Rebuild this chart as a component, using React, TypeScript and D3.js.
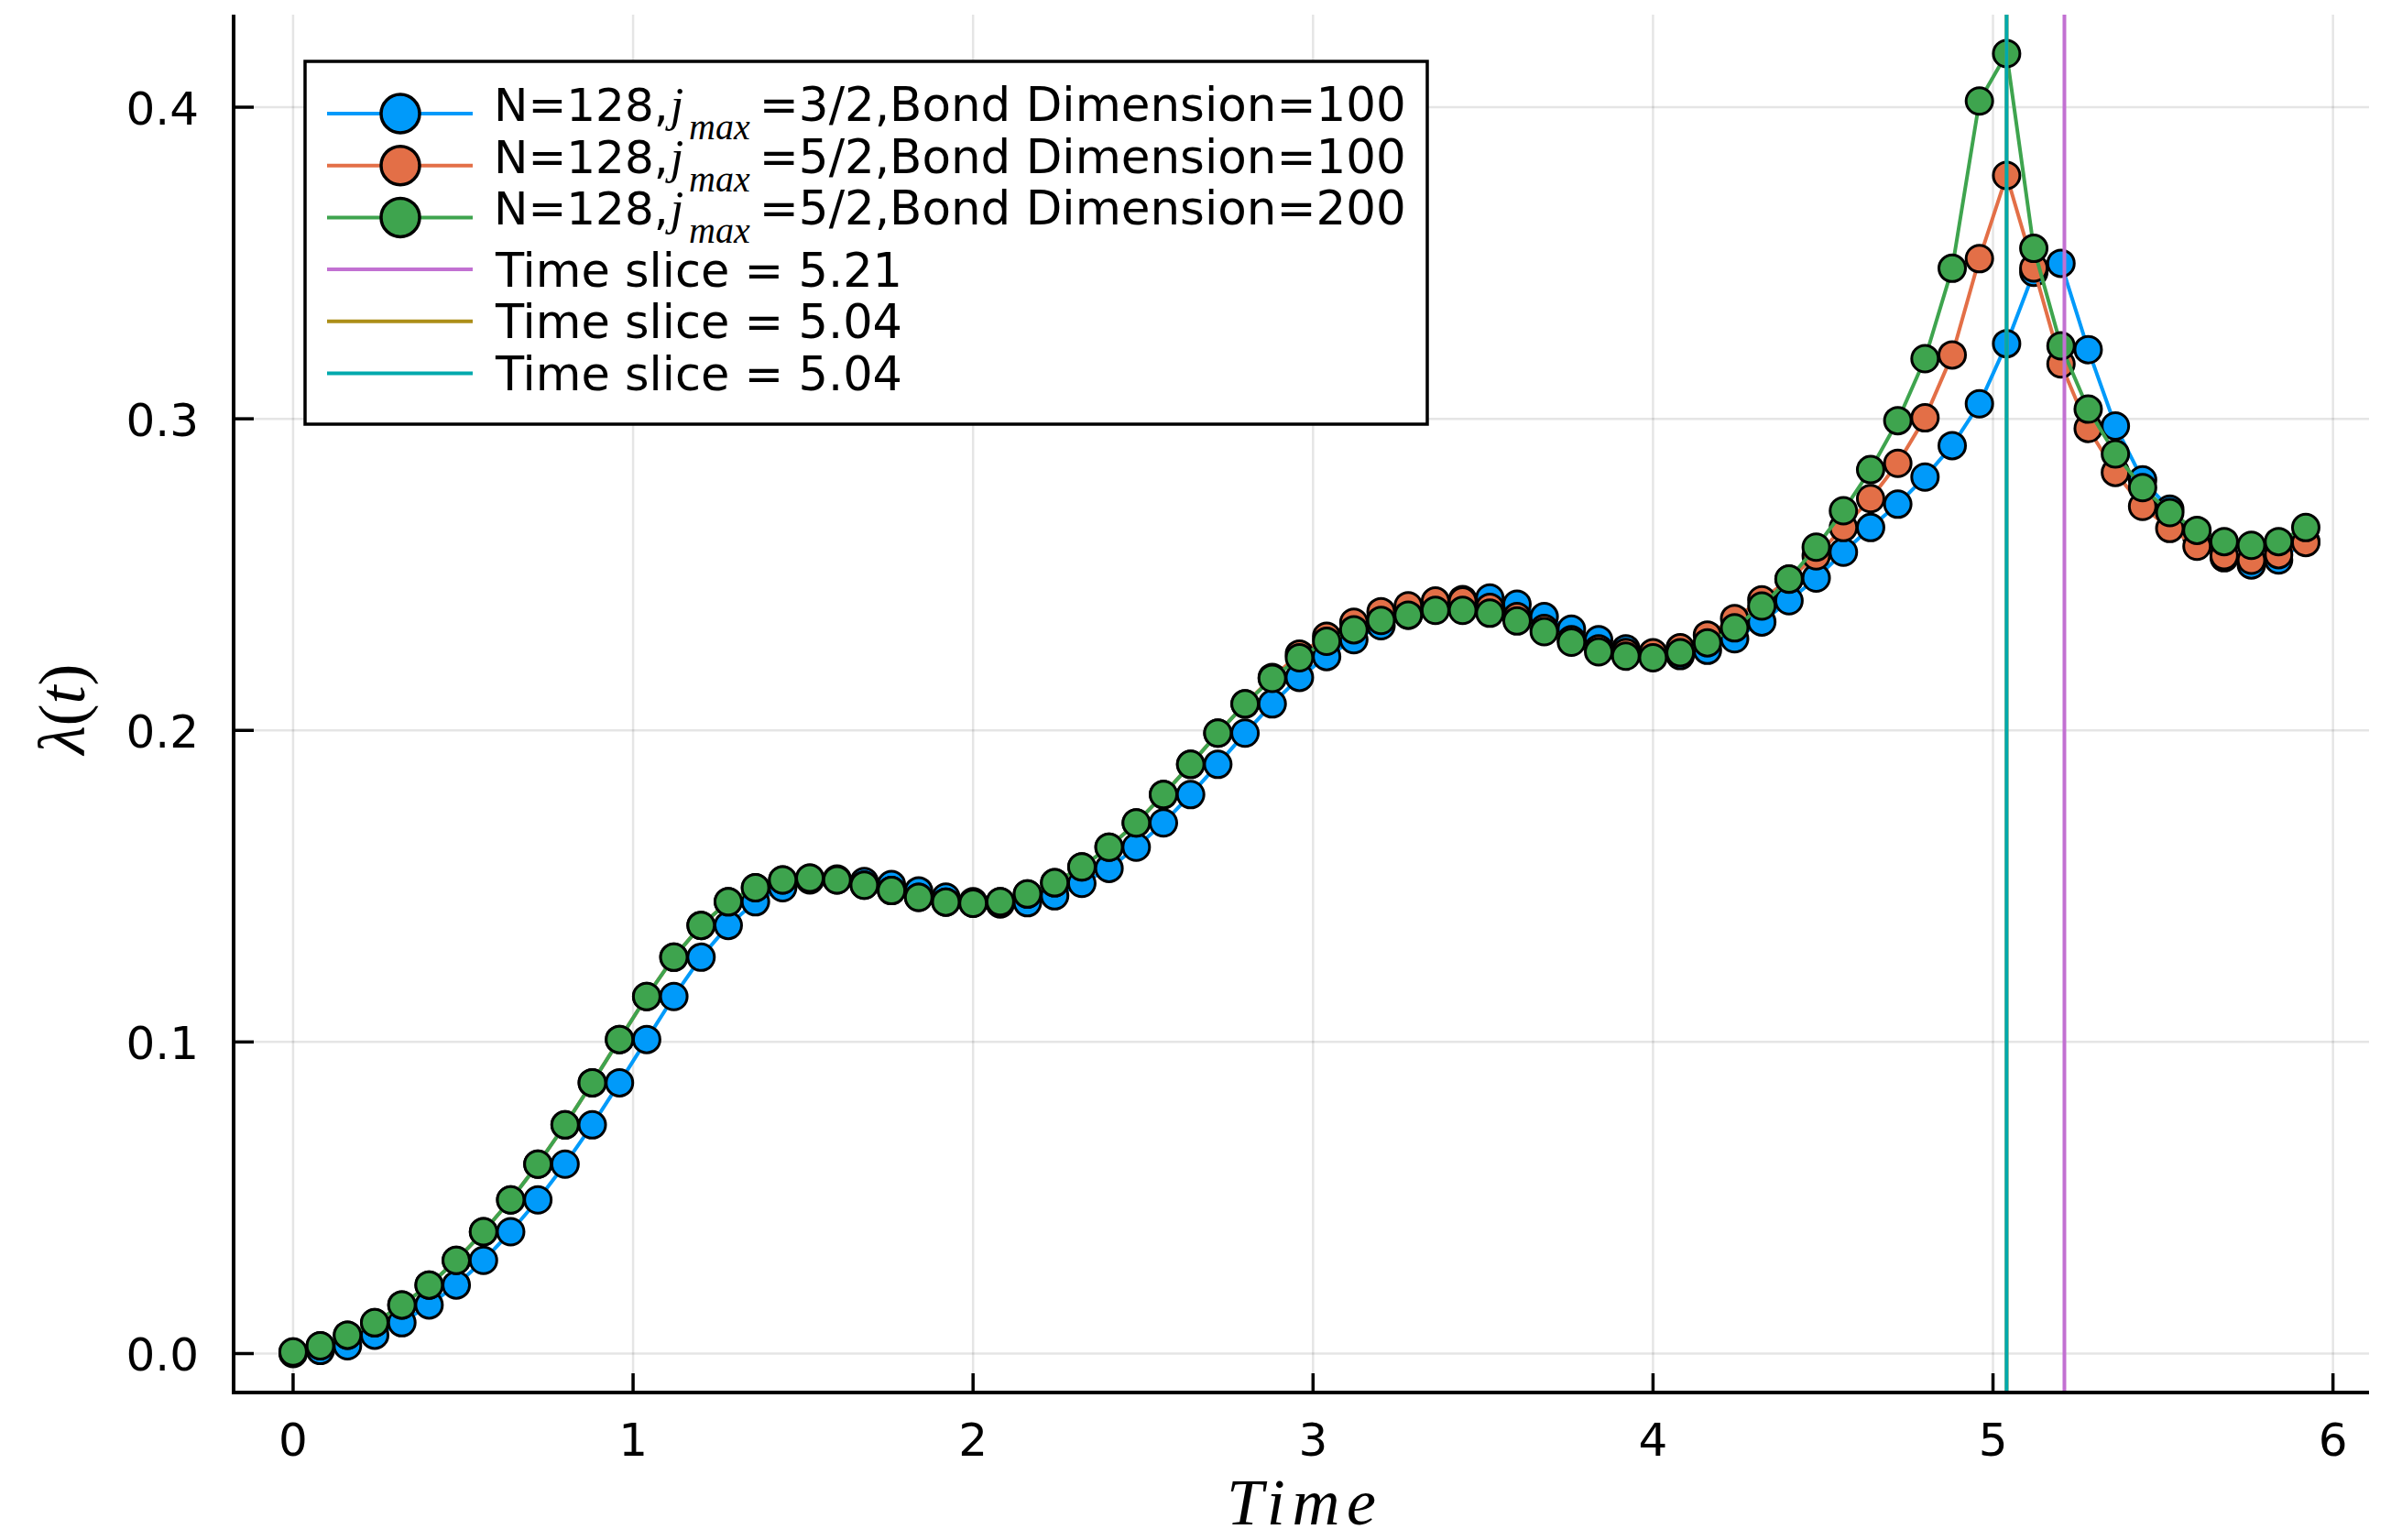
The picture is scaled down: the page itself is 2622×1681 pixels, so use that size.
import React from 'react';
import * as d3 from 'd3';

// ---------------- data ----------------
const time = [
  0, 0.08, 0.16, 0.24, 0.32, 0.4, 0.48, 0.56, 0.64, 0.72,
  0.8, 0.88, 0.96, 1.04, 1.12, 1.2, 1.28, 1.36, 1.44, 1.52,
  1.6, 1.68, 1.76, 1.84, 1.92, 2.0, 2.08, 2.16, 2.24, 2.32,
  2.4, 2.48, 2.56, 2.64, 2.72, 2.8, 2.88, 2.96, 3.04, 3.12,
  3.2, 3.28, 3.36, 3.44, 3.52, 3.6, 3.68, 3.76, 3.84, 3.92,
  4.0, 4.08, 4.16, 4.24, 4.32, 4.4, 4.48, 4.56, 4.64, 4.72,
  4.8, 4.88, 4.96, 5.04, 5.12, 5.2, 5.28, 5.36, 5.44, 5.52,
  5.6, 5.68, 5.76, 5.84, 5.92,
];

const lambdaJ32B100 = [
  0.0, 0.001, 0.0025, 0.0059, 0.0099, 0.0156, 0.022, 0.0299, 0.0391, 0.0493,
  0.0608, 0.0734, 0.0869, 0.1008, 0.1146, 0.1272, 0.1374, 0.145, 0.1495, 0.152,
  0.1523, 0.1515, 0.1505, 0.1485, 0.1465, 0.145, 0.1443, 0.1447, 0.1469, 0.1509,
  0.1557, 0.1625, 0.1703, 0.1794, 0.1891, 0.1991, 0.2085, 0.217, 0.2237, 0.2291,
  0.2336, 0.237, 0.24, 0.242, 0.2425, 0.2405, 0.2365, 0.2325, 0.2291, 0.2262,
  0.2247, 0.224, 0.2257, 0.2294, 0.2348, 0.2416, 0.2489, 0.2572, 0.2651, 0.2726,
  0.2813, 0.2914, 0.3048, 0.3241, 0.347, 0.3499, 0.3222, 0.2977, 0.2804, 0.271,
  0.262, 0.2554, 0.2531, 0.2547, 0.2606,
];

const lambdaJ52B100 = [
  0.0005, 0.0025, 0.0059, 0.0099, 0.0156, 0.022, 0.0299, 0.0391, 0.0493, 0.0608,
  0.0734, 0.0869, 0.1008, 0.1146, 0.1272, 0.1374, 0.145, 0.1495, 0.152, 0.1526,
  0.152, 0.1503, 0.1486, 0.1464, 0.1449, 0.1445, 0.145, 0.1475, 0.1511, 0.1562,
  0.1625, 0.1703, 0.1794, 0.1891, 0.1991, 0.2085, 0.217, 0.2245, 0.2302, 0.2347,
  0.2381, 0.24, 0.2415, 0.2415, 0.2395, 0.2365, 0.2327, 0.2291, 0.2262, 0.225,
  0.2249, 0.2265, 0.2306, 0.2359, 0.2419, 0.2485, 0.256, 0.2651, 0.2744, 0.2857,
  0.3003, 0.3205, 0.3514, 0.3781, 0.3484, 0.3176, 0.2969, 0.2828, 0.2719, 0.2648,
  0.2591, 0.2561, 0.2546, 0.2564, 0.2603,
];

const lambdaJ52B200 = [
  0.0005, 0.0025, 0.0059, 0.0099, 0.0156, 0.022, 0.0299, 0.0391, 0.0493, 0.0608,
  0.0734, 0.0869, 0.1008, 0.1146, 0.1272, 0.1374, 0.145, 0.1495, 0.152, 0.1526,
  0.152, 0.1503, 0.1486, 0.1464, 0.1449, 0.1445, 0.145, 0.1475, 0.1511, 0.1562,
  0.1625, 0.1703, 0.1794, 0.1891, 0.1991, 0.2085, 0.2167, 0.2233, 0.2286, 0.2323,
  0.2353, 0.237, 0.2385, 0.2385, 0.2376, 0.2351, 0.2317, 0.2283, 0.2252, 0.2238,
  0.2233, 0.2249, 0.2281, 0.2329, 0.2399, 0.2486, 0.2588, 0.2705, 0.2837, 0.2994,
  0.3193, 0.3483, 0.402, 0.4172, 0.3547, 0.3234, 0.3031, 0.2887, 0.2779, 0.2699,
  0.2642, 0.2606, 0.2594, 0.2606, 0.2651,
];

const seriesN = ['128', '128', '128'];
const seriesJmax = ['3/2', '5/2', '5/2'];
const seriesBond = ['100', '100', '200'];
const seriesValues = [lambdaJ32B100, lambdaJ52B100, lambdaJ52B200];
const seriesColors = ['#009AFA', '#E36F47', '#3EA44E'];

const timeSlices = [5.21, 5.04, 5.04];
const timeSliceLabels = ['5.21', '5.04', '5.04'];
const sliceColors = ['#C271D2', '#AC8E18', '#00A9AD'];

const xTicks = [0, 1, 2, 3, 4, 5, 6];
const yTicks = [0, 0.1, 0.2, 0.3, 0.4];

// ---------------- layout ----------------
const W = 2622;
const H = 1681;
const plotLeft = 255;
const plotRight = 2586;
const plotTop = 16;
const plotBottom = 1520;

const x = d3.scaleLinear().domain([-0.175, 6.106]).range([plotLeft, plotRight]);
const y = d3.scaleLinear().domain([-0.0125, 0.4297]).range([plotBottom, plotTop]);

const SANS = "'DejaVu Sans', sans-serif";
const SERIF = "'Liberation Serif', 'DejaVu Serif', serif";

export default function App() {
  const line = d3
    .line<number>()
    .x((_, i) => x(time[i]))
    .y((d) => y(d));

  const legendLeft = 333;
  const legendTop = 67;
  const legendW = 1225;
  const legendH = 396;
  const rowY = (i: number) => legendTop + 57 + i * 56.7;
  const lineX0 = 357;
  const lineX1 = 516;
  const markX = 437;
  const textX = 539;

  return (
    <svg
      width={W}
      height={H}
      viewBox={`0 0 ${W} ${H}`}
      style={{ position: 'absolute', left: 0, top: 0, display: 'block', background: '#fff' }}
    >
      <rect x={0} y={0} width={W} height={H} fill="#fff" />
      {/* grid */}
      <g stroke="#000" strokeOpacity={0.1} strokeWidth={2.5}>
        {xTicks.map((t) => (
          <line key={'gx' + t} x1={x(t)} x2={x(t)} y1={plotTop} y2={plotBottom} />
        ))}
        {yTicks.map((t) => (
          <line key={'gy' + t} x1={plotLeft} x2={plotRight} y1={y(t)} y2={y(t)} />
        ))}
      </g>

      {/* series */}
      {seriesValues.map((vals, si) => (
        <g key={'s' + si}>
          <path d={line(vals) || ''} fill="none" stroke={seriesColors[si]} strokeWidth={4} strokeLinejoin="round" />
          {vals.map((v, i) => (
            <circle
              key={i}
              cx={x(time[i])}
              cy={y(v)}
              r={14.5}
              fill={seriesColors[si]}
              stroke="#000"
              strokeWidth={3}
            />
          ))}
        </g>
      ))}

      {/* time slices */}
      {timeSlices.map((t, i) => (
        <line
          key={'v' + i}
          x1={x(t)}
          x2={x(t)}
          y1={plotTop}
          y2={plotBottom}
          stroke={sliceColors[i]}
          strokeWidth={4}
        />
      ))}

      {/* axes */}
      <g stroke="#000">
        <line x1={plotLeft} x2={plotLeft} y1={plotTop} y2={plotBottom + 2} strokeWidth={4} />
        <line x1={plotLeft - 2} x2={plotRight} y1={plotBottom} y2={plotBottom} strokeWidth={4} />
        {xTicks.map((t) => (
          <line key={'tx' + t} x1={x(t)} x2={x(t)} y1={plotBottom} y2={plotBottom - 21} strokeWidth={3.5} />
        ))}
        {yTicks.map((t) => (
          <line key={'ty' + t} x1={plotLeft} x2={plotLeft + 22} y1={y(t)} y2={y(t)} strokeWidth={3.5} />
        ))}
      </g>
      <g fontFamily={SANS} fontSize={50} fill="#000">
        {xTicks.map((t) => (
          <text key={'lx' + t} x={x(t)} y={plotBottom + 69} textAnchor="middle">
            {d3.format('d')(t)}
          </text>
        ))}
        {yTicks.map((t) => (
          <text key={'ly' + t} x={plotLeft - 38} y={y(t) + 18.5} textAnchor="end">
            {d3.format('.1f')(t)}
          </text>
        ))}
      </g>

      {/* axis labels */}
      <text
        x={(plotLeft + plotRight) / 2}
        y={1664}
        textAnchor="middle"
        fontFamily={SERIF}
        fontStyle="italic"
        fontSize={72}
        textLength={163}
        lengthAdjust="spacing"
      >
        Time
      </text>
      <text
        transform={`translate(92, ${(plotTop + plotBottom) / 2 + 6}) rotate(-90)`}
        textAnchor="middle"
        fontFamily={SERIF}
        fontSize={72}
      >
        <tspan fontStyle="italic">λ</tspan>
        <tspan>(</tspan>
        <tspan fontStyle="italic">t</tspan>
        <tspan>)</tspan>
      </text>

      {/* legend */}
      <rect
        x={legendLeft}
        y={legendTop}
        width={legendW}
        height={legendH}
        fill="#fff"
        stroke="#000"
        strokeWidth={3.5}
      />
      {seriesValues.map((_, i) => {
        const ly = rowY(i);
        return (
          <g key={'leg' + i}>
            <line x1={lineX0} x2={lineX1} y1={ly} y2={ly} stroke={seriesColors[i]} strokeWidth={4} />
            <circle cx={markX} cy={ly} r={21} fill={seriesColors[i]} stroke="#000" strokeWidth={3.5} />
            <text x={textX} y={ly + 8} fontSize={50} fontFamily={SANS}>
              {`N=${seriesN[i]},`}
              <tspan dx={2} fontFamily={SERIF} fontStyle="italic" fontSize={52}>j</tspan>
              <tspan dx={6} dy={20} fontFamily={SERIF} fontStyle="italic" fontSize={40}>max</tspan>
              <tspan dx={10} dy={-20} fontSize={51.5}>{`=${seriesJmax[i]},Bond Dimension=${seriesBond[i]}`}</tspan>
            </text>
          </g>
        );
      })}
      {timeSlices.map((_, i) => {
        const ly = rowY(i + 3);
        return (
          <g key={'legv' + i}>
            <line x1={lineX0} x2={lineX1} y1={ly} y2={ly} stroke={sliceColors[i]} strokeWidth={4} />
            <text x={textX + 2} y={ly + 18.5} fontSize={51} fontFamily={SANS}>
              {`Time slice = ${timeSliceLabels[i]}`}
            </text>
          </g>
        );
      })}
    </svg>
  );
}
